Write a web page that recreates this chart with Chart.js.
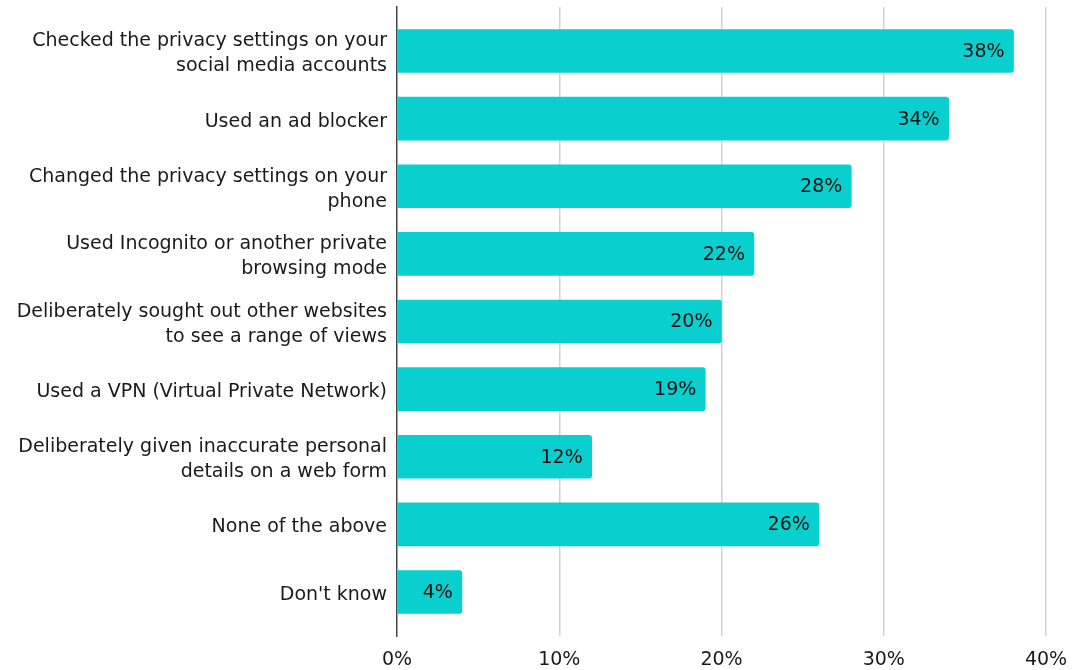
<!DOCTYPE html>
<html>
<head>
<meta charset="utf-8">
<script src="https://cdn.jsdelivr.net/npm/chart.js@4"></script>
<style>
  html, body { margin: 0; padding: 0; background: #fff; }
  #wrap { width: 1086px; height: 670px; }
</style>
</head>
<body>
<div id="wrap"><canvas id="chart"></canvas></div>
<script>
const categories = [
    ["Checked the privacy settings on your", "social media accounts"],
    ["Used an ad blocker"],
    ["Changed the privacy settings on your", "phone"],
    ["Used Incognito or another private", "browsing mode"],
    ["Deliberately sought out other websites", "to see a range of views"],
    ["Used a VPN (Virtual Private Network)"],
    ["Deliberately given inaccurate personal", "details on a web form"],
    ["None of the above"],
    ["Don't know"]
];
const percentages = [38, 34, 28, 22, 20, 19, 12, 26, 4];
const xTicks = [0, 10, 20, 30, 40];

const FONT = "'DejaVu Sans', Verdana, sans-serif";

// value labels inside the bar ends
const barLabels = {
    id: "barLabels",
    afterDatasetsDraw(chart) {
        const ctx = chart.ctx;
        const meta = chart.getDatasetMeta(0);
        ctx.save();
        ctx.font = "19px " + FONT;
        ctx.fillStyle = "#111";
        ctx.textAlign = "right";
        ctx.textBaseline = "middle";
        meta.data.forEach((bar, i) => {
            ctx.fillText(percentages[i] + "%", bar.x - 9, bar.y + 1);
        });
        ctx.restore();
    }
};

new Chart(document.getElementById("chart"), {
    type: "bar",
    data: {
        datasets: [{
            data: percentages.map((v, i) => ({x: v, y: i})),
            backgroundColor: "#09D0CE",
            borderRadius: 3,
            borderSkipped: "start",
            barThickness: 43
        }]
    },
    options: {
        indexAxis: "y",
        responsive: true,
        maintainAspectRatio: false,
        animation: false,
        layout: {padding: {top: 7, right: 40, left: 0, bottom: 0}},
        plugins: {
            legend: {display: false},
            tooltip: {enabled: false}
        },
        scales: {
            x: {
                type: "linear",
                min: 0,
                max: 40,
                afterBuildTicks: s => { s.ticks = xTicks.map(v => ({value: v})); },
                afterFit: s => { s.height = 34; },
                grid: {
                    color: c => c.tick && c.tick.value === 0 ? "rgba(0,0,0,0)" : "#d2d2d2",
                    lineWidth: 1.5,
                    drawTicks: false
                },
                border: {display: false},
                ticks: {
                    padding: 13,
                    color: "#1a1a1a",
                    font: {family: FONT, size: 19},
                    callback: v => v + "%"
                }
            },
            y: {
                type: "linear",
                reverse: true,
                offset: false,
                min: -0.65,
                max: 8.65,
                afterBuildTicks: s => { s.ticks = categories.map((_, i) => ({value: i})); },
                afterFit: s => { s.width = 397; s.paddingTop = 0; s.paddingBottom = 0; },
                grid: {display: false, drawTicks: false},
                border: {display: true, color: "#444", width: 1.5},
                ticks: {
                    padding: 10,
                    labelOffset: 3,
                    color: "#1a1a1a",
                    font: {family: FONT, size: 19, lineHeight: 1.32},
                    callback: v => categories[v]
                }
            }
        }
    },
    plugins: [barLabels]
});
</script>
</body>
</html>
